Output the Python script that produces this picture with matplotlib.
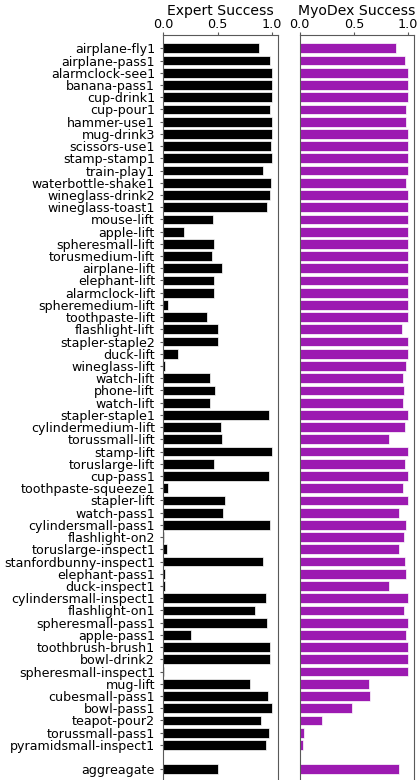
import matplotlib
matplotlib.use("Agg")
import matplotlib.pyplot as plt

tasks = [
    "airplane-fly1", "airplane-pass1", "alarmclock-see1", "banana-pass1",
    "cup-drink1", "cup-pour1", "hammer-use1", "mug-drink3", "scissors-use1",
    "stamp-stamp1", "train-play1", "waterbottle-shake1", "wineglass-drink2",
    "wineglass-toast1", "mouse-lift", "apple-lift", "spheresmall-lift",
    "torusmedium-lift", "airplane-lift", "elephant-lift", "alarmclock-lift",
    "spheremedium-lift", "toothpaste-lift", "flashlight-lift", "stapler-staple2",
    "duck-lift", "wineglass-lift", "watch-lift", "phone-lift", "watch-lift",
    "stapler-staple1", "cylindermedium-lift", "torussmall-lift", "stamp-lift",
    "toruslarge-lift", "cup-pass1", "toothpaste-squeeze1", "stapler-lift",
    "watch-pass1", "cylindersmall-pass1", "flashlight-on2", "toruslarge-inspect1",
    "stanfordbunny-inspect1", "elephant-pass1", "duck-inspect1",
    "cylindersmall-inspect1", "flashlight-on1", "spheresmall-pass1", "apple-pass1",
    "toothbrush-brush1", "bowl-drink2", "spheresmall-inspect1", "mug-lift",
    "cubesmall-pass1", "bowl-pass1", "teapot-pour2", "torussmall-pass1",
    "pyramidsmall-inspect1",
]
aggregate_label = "aggreagate"

expert_success = [
    0.88, 0.98, 1.00, 1.00, 1.00, 0.98, 1.00, 1.00, 0.99, 1.00,
    0.92, 0.99, 0.98, 0.95, 0.46, 0.19, 0.47, 0.45, 0.54, 0.47,
    0.47, 0.05, 0.40, 0.50, 0.50, 0.14, 0.02, 0.43, 0.48, 0.43,
    0.97, 0.53, 0.54, 1.00, 0.47, 0.97, 0.05, 0.57, 0.55, 0.98,
    0.01, 0.04, 0.92, 0.02, 0.02, 0.94, 0.84, 0.95, 0.26, 0.98,
    0.98, 0.01, 0.80, 0.96, 1.00, 0.90, 0.97, 0.94,
]
expert_aggregate = 0.50

myodex_success = [
    0.89, 0.97, 1.00, 1.00, 1.00, 0.98, 0.98, 1.00, 1.00, 1.00,
    1.00, 0.98, 1.00, 1.00, 1.00, 1.00, 1.00, 1.00, 1.00, 1.00,
    1.00, 1.00, 1.00, 0.94, 1.00, 1.00, 0.98, 0.95, 0.96, 0.95,
    1.00, 0.97, 0.82, 1.00, 0.97, 1.00, 0.95, 1.00, 0.92, 0.98,
    0.96, 0.92, 0.97, 0.98, 0.82, 1.00, 0.96, 1.00, 0.98, 1.00,
    1.00, 1.00, 0.64, 0.65, 0.48, 0.21, 0.04, 0.03,
]
myodex_aggregate = 0.92

# one empty row separates the per-task bars from the aggregate bar
positions = list(range(len(tasks))) + [len(tasks) + 1]
labels = tasks + [aggregate_label]
expert_vals = expert_success + [expert_aggregate]
myodex_vals = myodex_success + [myodex_aggregate]

W, H = 417, 780
fig = plt.figure(figsize=(W / 100, H / 100), dpi=100)

top_px = 35
extra_px = 8
axes_px = H - top_px + extra_px
bottom_frac = -extra_px / H
height_frac = axes_px / H
row_px = 12.22
y_top = -1.09
y_bottom = y_top + axes_px / row_px

ax1 = fig.add_axes([163 / W, bottom_frac, (277.5 - 163) / W, height_frac])
ax2 = fig.add_axes([299.7 / W, bottom_frac, (413.6 - 299.7) / W, height_frac])

ax1.barh(positions, expert_vals, height=0.8, color="black",
         edgecolor="white", linewidth=0.5)
ax2.barh(positions, myodex_vals, height=0.8, color="#9c1ab1",
         edgecolor="white", linewidth=0.5)

for ax, title in ((ax1, "Expert Success"), (ax2, "MyoDex Success")):
    ax.set_xlim(0, 1.05)
    ax.set_ylim(y_bottom, y_top)
    ax.xaxis.tick_top()
    ax.set_xticks([0.0, 0.5, 1.0])
    ax.set_xticklabels(["0.0", "0.5", "1.0"], fontsize=9.2)
    ax.tick_params(axis="x", length=2.2, width=0.8, color="0.35", pad=0.6)
    ax.text(0.5, 1 + 20 / axes_px, title, transform=ax.transAxes,
            ha="center", va="baseline", fontsize=10.1)
    for sp in ax.spines.values():
        sp.set_color("0.35")
        sp.set_linewidth(0.8)

ax1.set_yticks(positions)
ax1.set_yticklabels(labels, fontsize=9.1)
ax1.tick_params(axis="y", length=2.2, width=0.8, color="0.35", pad=3.5)
ax2.set_yticks([])

fig.savefig("out.png", dpi=100)
